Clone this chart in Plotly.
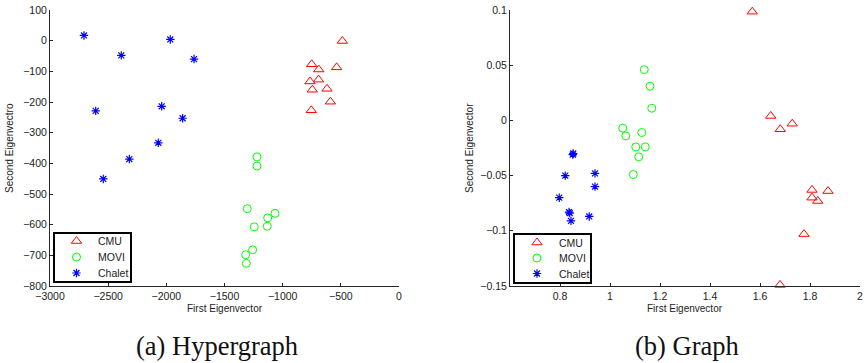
import plotly.graph_objects as go

# ---------------- data: (a) Hypergraph ----------------
hyp_cmu_x = [-487, -751, -690, -536, -765, -692, -745, -619, -590, -754]
hyp_cmu_y = [-1, -77, -94, -87, -133, -127, -160, -157, -199, -227]
hyp_movi_x = [-1221, -1221, -1304, -1066, -1129, -1244, -1132, -1258, -1318, -1312]
hyp_movi_y = [-379, -409, -548, -563, -578, -607, -605, -682, -698, -726]
hyp_chalet_x = [-2708, -2387, -1966, -1762, -2607, -2040, -1860, -2069, -2318, -2542]
hyp_chalet_y = [17, -48, 4, -60, -229, -214, -253, -333, -386, -451]

# ---------------- data: (b) Graph ----------------
gr_cmu_x = [1.569, 1.643, 1.681, 1.729, 1.808, 1.872, 1.808, 1.831, 1.776, 1.680]
gr_cmu_y = [0.0985, 0.004, -0.008, -0.003, -0.063, -0.064, -0.070, -0.073, -0.103, -0.149]
gr_movi_x = [1.137, 1.160, 1.167, 1.051, 1.063, 1.127, 1.103, 1.141, 1.115, 1.093]
gr_movi_y = [0.046, 0.031, 0.011, -0.007, -0.014, -0.011, -0.024, -0.024, -0.033, -0.049]
gr_chalet_x = [0.851, 0.853, 0.821, 0.940, 0.940, 0.797, 0.836, 0.839, 0.917, 0.844]
gr_chalet_y = [-0.031, -0.030, -0.050, -0.048, -0.060, -0.070, -0.083, -0.084, -0.087, -0.091]

series_names = ["CMU", "MOVI", "Chalet"]
hyp_xticks = [-3000, -2500, -2000, -1500, -1000, -500, 0]
hyp_yticks = [100, 0, -100, -200, -300, -400, -500, -600, -700, -800]
gr_xticks = [0.8, 1, 1.2, 1.4, 1.6, 1.8, 2]
gr_yticks = [0.1, 0.05, 0, -0.05, -0.1, -0.15]

W, H = 865, 363
def px_x(p): return p / W
def px_y(p): return 1 - p / H

styles = [
    dict(symbol="triangle-up-open", size=9, color="#ff0000", line=dict(color="#ff0000", width=1)),
    dict(symbol="circle-open", size=8, color="#00ff00", line=dict(color="#00ff00", width=1)),
    dict(symbol="asterisk-open", size=7, color="#0000ff", line=dict(color="#0000ff", width=1.2)),
]

fig = go.Figure()
hyp = [(hyp_cmu_x, hyp_cmu_y), (hyp_movi_x, hyp_movi_y), (hyp_chalet_x, hyp_chalet_y)]
gr = [(gr_cmu_x, gr_cmu_y), (gr_movi_x, gr_movi_y), (gr_chalet_x, gr_chalet_y)]
for name, (x, y), st in zip(series_names, hyp, styles):
    fig.add_trace(go.Scatter(x=x, y=y, mode="markers", name=name, marker=st,
                             xaxis="x", yaxis="y", showlegend=False, cliponaxis=False))
for name, (x, y), st in zip(series_names, gr, styles):
    fig.add_trace(go.Scatter(x=x, y=y, mode="markers", name=name, marker=st,
                             xaxis="x2", yaxis="y2", showlegend=False, cliponaxis=False))

# ---- legend boxes (MATLAB style: compact, boxed) drawn in a pixel overlay ----
legend_boxes = [dict(x0=54, x1=131, y0=233, y1=282, key_x=76.5, text_x=96, rows=[241, 257, 273]),
                dict(x0=514, x1=591, y0=234, y1=283, key_x=537, text_x=557, rows=[242.5, 258, 273.5])]
legfont = dict(family="Liberation Sans, Arial", size=10.5, color="#222222")
shapes = []
annotations = []
for lb in legend_boxes:
    shapes.append(dict(type="rect", xref="x3", yref="y3", x0=lb["x0"], x1=lb["x1"],
                       y0=lb["y0"], y1=lb["y1"], line=dict(color="black", width=2),
                       fillcolor="white", layer="below"))
    for name, st, ry in zip(series_names, styles, lb["rows"]):
        fig.add_trace(go.Scatter(x=[lb["key_x"]], y=[ry], mode="markers", marker=st,
                                 xaxis="x3", yaxis="y3", showlegend=False,
                                 hoverinfo="skip", name=name))
        annotations.append(dict(text=name, x=lb["text_x"], y=ry, xref="x3", yref="y3",
                                showarrow=False, font=legfont, xanchor="left",
                                yanchor="middle"))

tickfont = dict(family="Liberation Sans, Arial", size=10.5, color="#222222")
axcommon = dict(showline=True, linecolor="#262626", linewidth=1, mirror=False,
                ticks="inside", ticklen=3, tickcolor="#262626", tickwidth=1,
                showgrid=False, zeroline=False, tickfont=tickfont, automargin=False)

ydom = [px_y(286), px_y(10)]
fig.update_layout(
    width=W, height=H, margin=dict(l=0, r=0, t=0, b=0, autoexpand=False),
    paper_bgcolor="white", plot_bgcolor="rgba(0,0,0,0)",
    xaxis=dict(domain=[px_x(50), px_x(399)], range=[-3000, 0], tickvals=hyp_xticks,
               anchor="y", **axcommon),
    yaxis=dict(domain=ydom, range=[-800, 100], tickvals=hyp_yticks, anchor="x", **axcommon),
    xaxis2=dict(domain=[px_x(510), px_x(860)], range=[0.6, 2], tickvals=gr_xticks,
                anchor="y2", **axcommon),
    yaxis2=dict(domain=ydom, range=[-0.15, 0.1], tickvals=gr_yticks, anchor="x2", **axcommon),
    xaxis3=dict(domain=[0, 1], range=[0, W], visible=False, fixedrange=True, anchor="y3"),
    yaxis3=dict(domain=[0, 1], range=[H, 0], visible=False, fixedrange=True, anchor="x3"),
    showlegend=False,
)

labfont = dict(family="Liberation Sans, Arial", size=10, color="#222222")
capfont = dict(family="Liberation Serif, Times New Roman", size=26.5, color="#111111")
annotations += [
    dict(text="First Eigenvector", x=px_x(224.5), y=px_y(308), xref="paper", yref="paper",
         showarrow=False, font=labfont, xanchor="center", yanchor="middle"),
    dict(text="First Eigenvector", x=px_x(685), y=px_y(308), xref="paper", yref="paper",
         showarrow=False, font=labfont, xanchor="center", yanchor="middle"),
    dict(text="Second Eigenvectro", x=px_x(9), y=px_y(148), xref="paper", yref="paper",
         showarrow=False, font=labfont, textangle=-90, xanchor="center", yanchor="middle"),
    dict(text="Second Eigenvector", x=px_x(469), y=px_y(148), xref="paper", yref="paper",
         showarrow=False, font=labfont, textangle=-90, xanchor="center", yanchor="middle"),
    dict(text="(a) Hypergraph", x=px_x(216.5), y=px_y(346), xref="paper", yref="paper",
         showarrow=False, font=capfont, xanchor="center", yanchor="middle"),
    dict(text="(b) Graph", x=px_x(687), y=px_y(346), xref="paper", yref="paper",
         showarrow=False, font=capfont, xanchor="center", yanchor="middle"),
]
fig.update_layout(annotations=annotations, shapes=shapes)

fig.write_html("out.html", config={"displayModeBar": False},
               post_script="document.body.style.margin='0px';document.body.style.overflow='hidden';")
